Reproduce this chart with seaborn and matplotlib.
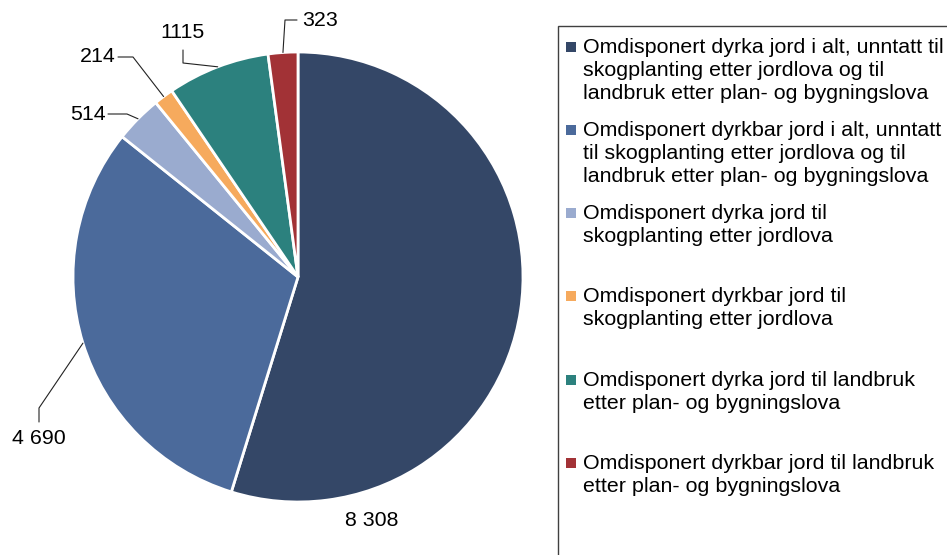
import numpy as np
import matplotlib.pyplot as plt
import seaborn as sns
from matplotlib.patches import Rectangle

# data
categories = [
    "Omdisponert dyrka jord i alt, unntatt til\nskogplanting etter jordlova og til\nlandbruk etter plan- og bygningslova",
    "Omdisponert dyrkbar jord i alt, unntatt\ntil skogplanting etter jordlova og til\nlandbruk etter plan- og bygningslova",
    "Omdisponert dyrka jord til\nskogplanting etter jordlova",
    "Omdisponert dyrkbar jord til\nskogplanting etter jordlova",
    "Omdisponert dyrka jord til landbruk\netter plan- og bygningslova",
    "Omdisponert dyrkbar jord til landbruk\netter plan- og bygningslova",
]
values = [8308, 4690, 514, 214, 1115, 323]
value_labels = ["8 308", "4 690", "514", "214", "1115", "323"]
colors = ["#344767", "#4b6a9b", "#9aabcf", "#f6aa5d", "#2c817e", "#a23236"]

# label layout in pixels: text centre, then leader points from elbow to text end
W, H = 947, 555
cx, cy, r = 298, 277, 225
label_xy = [(372, 520), (39, 438), (88, 114), (98, 57), (183, 32), (320, 21)]
leaders = [
    None,
    [(39, 408), (39, 422)],
    [(127, 114), (108, 114)],
    [(133, 57), (118, 57)],
    [(183, 63), (183, 50)],
    [(285, 20), (297, 20)],
]

sns.set_theme(style="white")
plt.rcParams['font.family'] = ['Liberation Sans', 'DejaVu Sans']
FS = 15.4

fig = plt.figure(figsize=(W / 100, H / 100), dpi=100)
fig.patch.set_facecolor("white")
ax = fig.add_axes([(cx - r) / W, (H - cy - r) / H, 2 * r / W, 2 * r / H])
wedges, _ = ax.pie(values, colors=colors, startangle=90, counterclock=False,
                   radius=1, wedgeprops=dict(edgecolor="white", linewidth=2))
ax.set_xlim(-1, 1)
ax.set_ylim(-1, 1)
ax.axis("off")


def px(p):
    return ((p[0] - cx) / r, (cy - p[1]) / r)


for w, lab, pos, lead in zip(wedges, value_labels, label_xy, leaders):
    ax.text(*px(pos), lab, ha="center", va="center", fontsize=FS,
            color="black", clip_on=False)
    if lead is None:
        continue
    mid = np.deg2rad((w.theta1 + w.theta2) / 2)
    pts = [(np.cos(mid), np.sin(mid))] + [px(p) for p in lead]
    xs, ys = zip(*pts)
    ax.plot(xs, ys, color="#222222", lw=0.8, clip_on=False)

# legend box, open to the right and bottom like the original
fig.add_artist(Rectangle((558 / W, -0.1), 1, (H - 26) / H + 0.1,
                         transform=fig.transFigure, fill=False,
                         edgecolor="#404040", lw=1))
first_baselines = [54, 137, 220, 303, 387, 470]
for cat, col, base in zip(categories, colors, first_baselines):
    fig.add_artist(Rectangle((566 / W, (H - base + 2) / H), 10 / W, 10 / H,
                             transform=fig.transFigure, facecolor=col,
                             edgecolor="none"))
    fig.text(583 / W, (H - base + 16) / H, cat, ha="left", va="top",
             fontsize=FS, linespacing=1.28, color="black")

fig.savefig("out.png", dpi=100)
